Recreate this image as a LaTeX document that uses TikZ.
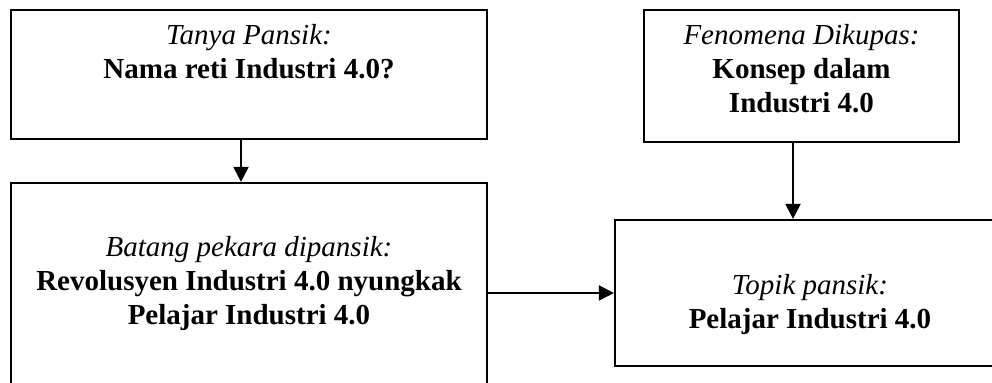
\documentclass[tikz,border=0pt]{standalone}
\usepackage{fontspec}
\setmainfont{Liberation Serif}
\usetikzlibrary{arrows.meta,positioning}

\begin{document}
\begin{tikzpicture}[x=0.5pt,y=-0.5pt,
  box/.style={draw,shape=rectangle,line width=1.1pt},
  lbl/.style={inner sep=0pt,align=center,font=\fontsize{14.5}{17}\selectfont},
  link/.style={line width=1.1pt,-{Triangle[length=7.5pt,width=7.5pt]}}]
\useasboundingbox (0,0) rectangle (992,383);
\clip (0,0) rectangle (992,383);

\node (tanyaBox) [box, minimum width=238pt, minimum height=64.5pt] at (249,74.5) {};
\node (batangBox) [box, minimum width=238pt, minimum height=108.5pt] at (249,291.5) {};
\node (fenomenaBox) [box, minimum width=157.5pt, minimum height=66pt] at (801.5,76) {};
\node (topikBox) [box, minimum width=195pt, minimum height=73pt] at (810,293) {};

\node (tanyaTxt) [lbl, below=7.5pt of tanyaBox.north]
{\textit{Tanya Pansik:}\\\textbf{Nama reti Industri 4.0?}};
\node (batangTxt) [lbl, below=27pt of batangBox.north]
{\textit{Batang pekara dipansik:}\\\textbf{Revolusyen Industri 4.0 nyungkak}\\\textbf{Pelajar Industri 4.0}};
\node (fenomenaTxt) [lbl, below=7.5pt of fenomenaBox.north]
{\textit{Fenomena Dikupas:}\\\textbf{Konsep dalam}\\\textbf{Industri 4.0}};
\node (topikTxt) [lbl, below=27.5pt of topikBox.north]
{\textit{Topik pansik:}\\\textbf{Pelajar Industri 4.0}};

\draw[link] ([xshift=-4pt]tanyaBox.south) -- ([xshift=-4pt]batangBox.north);
\draw[link] ([xshift=-4.25pt]fenomenaBox.south) -- ([xshift=-4.25pt]fenomenaBox.south |- topikBox.north);
\draw[link] (batangBox.east |- topikBox.west) -- (topikBox.west);
\end{tikzpicture}
\end{document}
